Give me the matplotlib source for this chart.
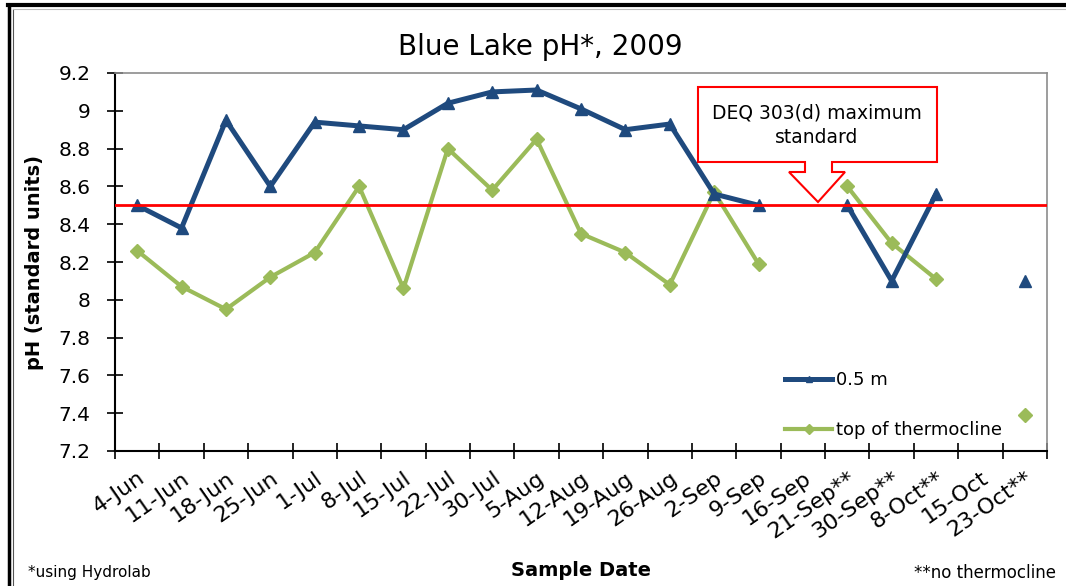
import numpy as np
import matplotlib
matplotlib.use("Agg")
import matplotlib.pyplot as plt
from matplotlib.patches import Polygon
from matplotlib.lines import Line2D

dates = ["4-Jun", "11-Jun", "18-Jun", "25-Jun", "1-Jul", "8-Jul", "15-Jul",
         "22-Jul", "30-Jul", "5-Aug", "12-Aug", "19-Aug", "26-Aug", "2-Sep",
         "9-Sep", "16-Sep", "21-Sep**", "30-Sep**", "8-Oct**", "15-Oct",
         "23-Oct**"]
nan = np.nan
ph_surface = [8.50, 8.38, 8.95, 8.60, 8.94, 8.92, 8.90, 9.04, 9.10, 9.11,
              9.01, 8.90, 8.93, 8.56, 8.50, nan, 8.50, 8.10, 8.56, nan, 8.10]
ph_thermocline = [8.26, 8.07, 7.95, 8.12, 8.25, 8.60, 8.06, 8.80, 8.58, 8.85,
                  8.35, 8.25, 8.08, 8.57, 8.19, nan, 8.60, 8.30, 8.11, nan, 7.39]
deq_max = 8.5
yticks = [7.2, 7.4, 7.6, 7.8, 8, 8.2, 8.4, 8.6, 8.8, 9, 9.2]

W, H = 1066, 586
fig = plt.figure(figsize=(W / 100, H / 100), dpi=100)
ax = fig.add_axes([115 / W, 1 - 451 / H, 932 / W, 378 / H])

x = np.arange(len(dates))
ax.plot(x, ph_surface, color="#1F4A7E", lw=3.6, marker="^", ms=9,
        label="0.5 m", zorder=4)
ax.plot(x, ph_thermocline, color="#9BBB59", lw=3.0, marker="D", ms=7,
        label="top of thermocline", zorder=3)
ax.axhline(deq_max, color="#FF0000", lw=2.0, zorder=5)

ax.set_xlim(-0.5, len(dates) - 0.5)
ax.set_ylim(7.2, 9.2)
ax.set_yticks(yticks)
ax.set_yticklabels(["%g" % v for v in yticks])
ax.tick_params(axis="y", direction="inout", length=11, width=1.2,
               labelsize=14.5, pad=12)

# category boundaries get the tick marks, centers carry the labels
ax.set_xticks(np.arange(-0.5, len(dates), 1))
ax.set_xticklabels([])
ax.set_xticks(x, minor=True)
ax.set_xticklabels(dates, minor=True, rotation=35, ha="right",
                   rotation_mode="anchor", fontsize=16)
ax.tick_params(axis="x", which="major", direction="inout", length=11, width=1.2)
ax.tick_params(axis="x", which="minor", length=0, pad=12)

for side in ["top", "right"]:
    ax.spines[side].set_color("#8C8C8C")
    ax.spines[side].set_linewidth(1.2)
for side in ["left", "bottom"]:
    ax.spines[side].set_color("black")
    ax.spines[side].set_linewidth(1.5)

leg = ax.legend(loc="upper left", bbox_to_anchor=((778 - 115) / 932, (451 - 364) / 378),
                frameon=False, fontsize=13, labelspacing=1.75, handlelength=2.6,
                handletextpad=0.2, borderaxespad=0)
for h in leg.legend_handles:
    h.set_markersize(5)

fig.text(540 / W, 1 - 47 / H, "Blue Lake pH*, 2009", fontsize=20,
         ha="center", va="center")
fig.text(35 / W, 1 - 262 / H, "pH (standard units)", fontsize=14,
         fontweight="bold", rotation=90, ha="center", va="center")
fig.text(581 / W, 1 - 570 / H, "Sample Date", fontsize=14, fontweight="bold",
         ha="center", va="center")
fig.text(28 / W, 1 - 573 / H, "*using Hydrolab", fontsize=11,
         ha="left", va="center")
fig.text(1056 / W, 1 - 573 / H, "**no thermocline", fontsize=12,
         ha="right", va="center")

# callout box with downward arrow, in pixel coordinates
pts = [(698, 87), (937, 87), (937, 162), (832, 162), (832, 172), (845, 172),
       (818, 202), (789, 172), (805, 172), (805, 162), (698, 162)]
callout = Polygon([(px / W, 1 - py / H) for px, py in pts], closed=True,
                  transform=fig.transFigure, facecolor="white",
                  edgecolor="#FF0000", lw=1.5, zorder=10)
fig.add_artist(callout)
fig.text(817 / W, 1 - 113 / H, "DEQ 303(d) maximum", fontsize=13.5,
         ha="center", va="center", zorder=11)
fig.text(817 / W, 1 - 138 / H, "standard", fontsize=13.5,
         ha="center", va="center", zorder=11)

# frame lines round the chart
fig.add_artist(Line2D([8 / W, 1], [1 - 5 / H, 1 - 5 / H], color="black",
                      lw=3, transform=fig.transFigure))
fig.add_artist(Line2D([9 / W, 9 / W], [0, 1 - 5 / H], color="black",
                      lw=2.5, transform=fig.transFigure))
fig.add_artist(Line2D([13 / W, 13 / W], [0, 1 - 9 / H], color="#555555",
                      lw=0.8, transform=fig.transFigure))
fig.add_artist(Line2D([13 / W, 1], [1 - 9 / H, 1 - 9 / H], color="#BBBBBB",
                      lw=0.8, transform=fig.transFigure))

fig.savefig("out.png", dpi=100)
